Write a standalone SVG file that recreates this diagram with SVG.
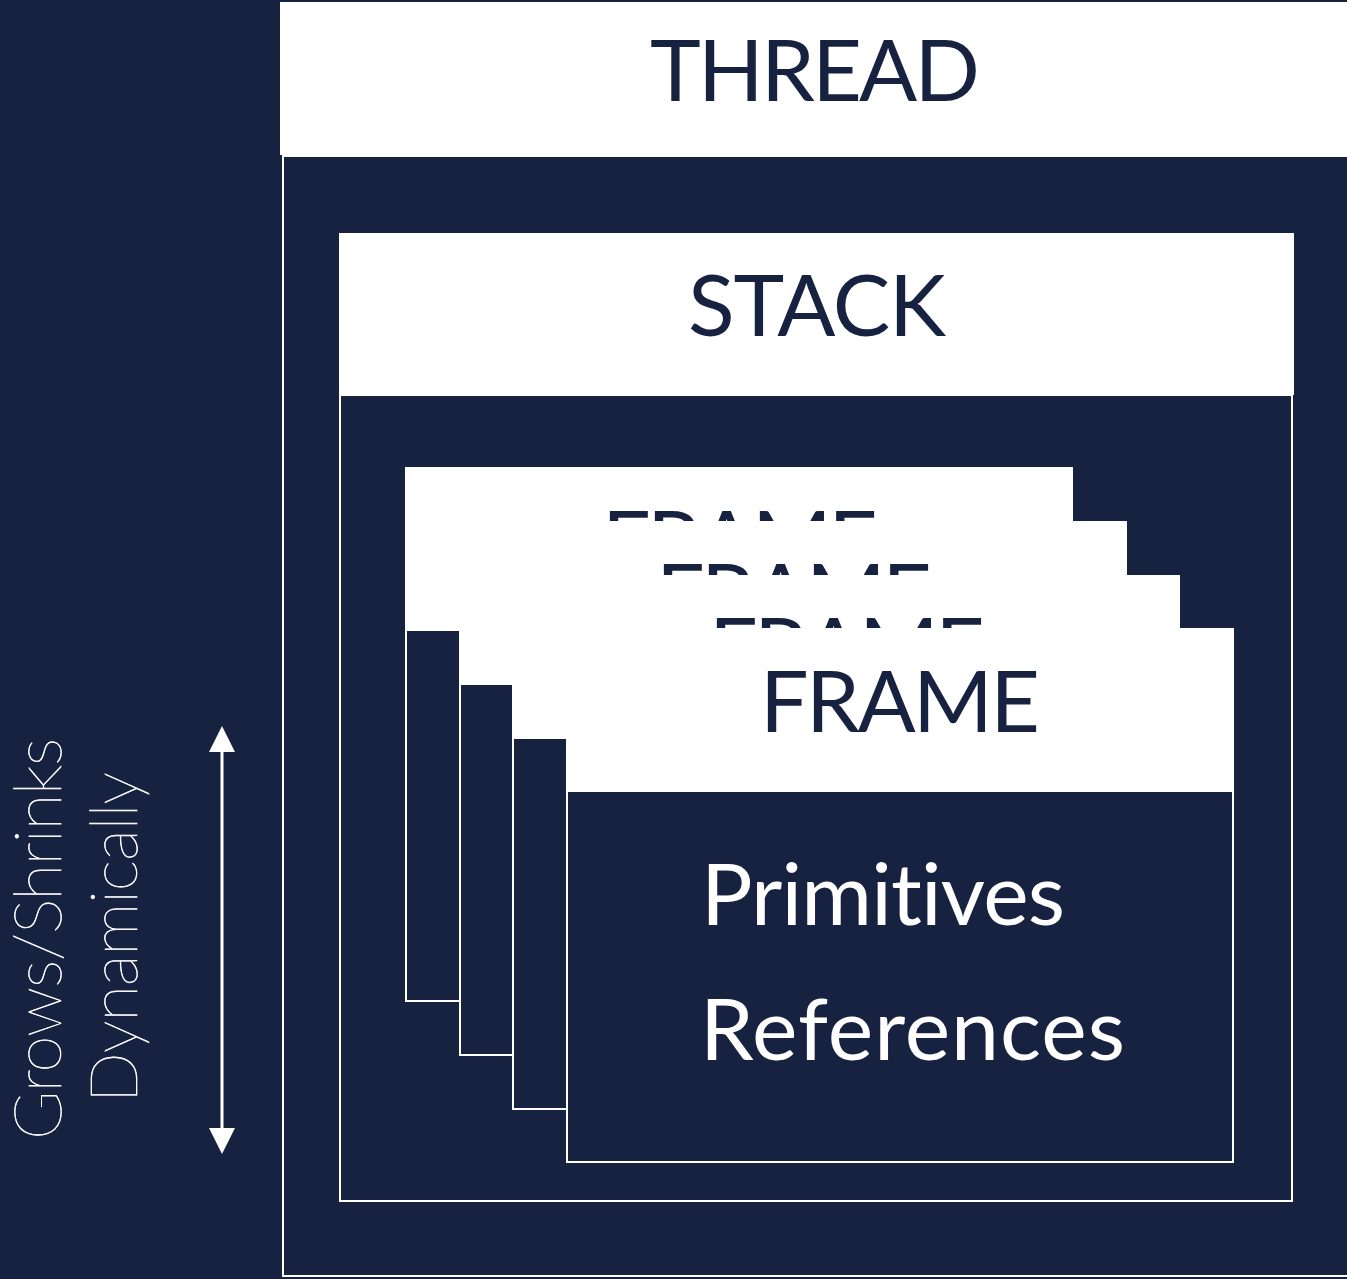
<svg xmlns="http://www.w3.org/2000/svg" width="1347" height="1279" viewBox="0 0 1347 1279">
  <style>
    .bg { fill: #172241; }
    .head { fill: #ffffff; }
    .body { fill: #172241; stroke: #ffffff; stroke-width: 2; }
    text { font-variant-ligatures: none; }
    .title { font-family: Lato, "Liberation Sans", sans-serif; font-size: 86px; fill: #172241; text-anchor: middle; }
    .item { font-family: Lato, "Liberation Sans", sans-serif; font-size: 86px; fill: #ffffff; }
    .side { font-family: Lato, "Liberation Sans", sans-serif; font-size: 67px; font-weight: 100; fill: #ffffff; stroke: #ffffff; stroke-width: 0.6; }
    .conn { stroke: #ffffff; stroke-width: 3; fill: none; }
  </style>
  <defs>
    <marker id="head" markerUnits="userSpaceOnUse" markerWidth="26" markerHeight="26" viewBox="0 0 26 26" refX="2" refY="13" orient="auto-start-reverse">
      <path d="M0,0 L26,13 L0,26 Z" fill="#ffffff"/>
    </marker>
  </defs>

  <rect class="bg" x="0" y="0" width="1347" height="1279"/>

  <!-- outer thread container -->
  <g id="thread">
    <rect class="head" x="280" y="2" width="1080" height="153"/>
    <rect class="body" x="283" y="156" width="1080" height="1120"/>
    <text class="title" x="815" y="101" textLength="330">THREAD</text>
  </g>

  <!-- stack inside the thread -->
  <g id="stack">
    <rect class="head" x="339" y="233" width="955" height="162"/>
    <rect class="body" x="340" y="395" width="952" height="806"/>
    <text class="title" x="817" y="336" textLength="258">STACK</text>
  </g>

  <!-- stacked frames, back to front -->
  <g id="frame1">
    <rect class="head" x="405" y="467" width="668" height="163"/>
    <rect class="body" x="406" y="630" width="666" height="371"/>
    <text class="title" x="740" y="572" textLength="276">FRAME</text>
  </g>
  <g id="frame2">
    <rect class="head" x="459" y="521" width="668" height="163"/>
    <rect class="body" x="460" y="684" width="666" height="371"/>
    <text class="title" x="794" y="625" textLength="276">FRAME</text>
  </g>
  <g id="frame3">
    <rect class="head" x="512" y="575" width="668" height="163"/>
    <rect class="body" x="513" y="738" width="666" height="371"/>
    <text class="title" x="847" y="679" textLength="276">FRAME</text>
  </g>
  <g id="frame4">
    <rect class="head" x="566" y="628" width="668" height="163"/>
    <rect class="body" x="567" y="791" width="666" height="371"/>
    <text class="title" x="900" y="732" textLength="280">FRAME</text>
    <text class="item" x="701" y="925" textLength="364">Primitives</text>
    <text class="item" x="700" y="1060" textLength="425">References</text>
  </g>

  <!-- growth label -->
  <g id="growth-label">
    <text class="side" transform="translate(61,1140) rotate(-90)" textLength="402">Grows/Shrinks</text>
    <text class="side" transform="translate(137,1103) rotate(-90)" textLength="331">Dynamically</text>
  </g>

  <g id="connectors">
    <line class="conn" x1="222" y1="750" x2="222" y2="1130" marker-start="url(#head)" marker-end="url(#head)"/>
  </g>
</svg>
